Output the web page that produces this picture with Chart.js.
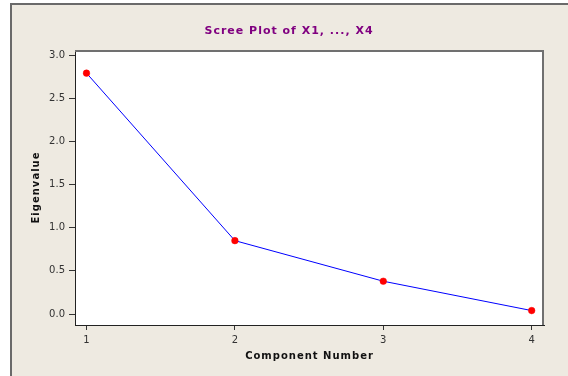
<!DOCTYPE html>
<html lang="en">
<head>
<meta charset="UTF-8">
<title>Scree Plot of X1, ..., X4</title>
<script src="https://cdn.jsdelivr.net/npm/chart.js"></script>
<style>
    html, body { margin: 0; padding: 0; background: #fff; }
    #wrap { width: 568px; height: 376px; }
</style>
</head>
<body>
<div id="wrap"><canvas id="screeChart" width="568" height="376"></canvas></div>
<script>
// values
const components = [1, 2, 3, 4];
const eigenvalues = [2.79, 0.85, 0.38, 0.04];
const xTickValues = [1, 2, 3, 4];
const yTickValues = [0, 0.5, 1.0, 1.5, 2.0, 2.5, 3.0];

const PANEL_BG = '#EEEAE1';

// frame + panel colours (minitab style)
const panelPlugin = {
    id: 'panel',
    beforeDraw(chart) {
        const ctx = chart.ctx;
        const a = chart.chartArea;
        ctx.save();
        ctx.fillStyle = '#fff';
        ctx.fillRect(0, 0, chart.width, chart.height);
        ctx.fillStyle = PANEL_BG;
        ctx.fillRect(10, 3, chart.width, chart.height);
        ctx.strokeStyle = '#6a6a6a';
        ctx.lineWidth = 2;
        ctx.beginPath();
        ctx.moveTo(chart.width + 2, 4);
        ctx.lineTo(11, 4);
        ctx.lineTo(11, chart.height + 2);
        ctx.stroke();
        ctx.fillStyle = '#fff';
        ctx.fillRect(a.left, a.top, a.right - a.left, a.bottom - a.top);
        ctx.restore();

        // spaced lettering for title and axis titles only
        const wrap = (obj, fn, spacing) => {
            if (!obj || obj['_spaced_' + fn]) return;
            const orig = obj[fn];
            obj[fn] = function (...args) {
                const c = this.ctx;
                c.save();
                c.letterSpacing = spacing;
                orig.apply(this, args);
                c.restore();
            };
            obj['_spaced_' + fn] = true;
        };
        wrap(chart.titleBlock, 'draw', '1px');
        wrap(chart.scales.x, 'drawTitle', '1px');
        wrap(chart.scales.y, 'drawTitle', '1px');
    },
    afterDraw(chart) {
        const ctx = chart.ctx;
        const a = chart.chartArea;
        ctx.save();
        ctx.strokeStyle = '#707070';
        ctx.lineWidth = 2;
        ctx.beginPath();
        ctx.moveTo(a.left, a.top + 1);
        ctx.lineTo(a.right - 1, a.top + 1);
        ctx.lineTo(a.right - 1, a.bottom);
        ctx.stroke();
        ctx.restore();
    }
};

Chart.defaults.font.family = "'DejaVu Sans', Verdana, sans-serif";
Chart.defaults.color = '#333';

const ctx = document.getElementById('screeChart').getContext('2d');
new Chart(ctx, {
    type: 'line',
    data: {
        datasets: [{
            data: components.map((c, i) => ({ x: c, y: eigenvalues[i] })),
            borderColor: '#0000FF',
            borderWidth: 1,
            pointBackgroundColor: '#FF0000',
            pointBorderColor: '#FF0000',
            pointRadius: 3.3,
            pointBorderWidth: 0.5,
            tension: 0,
            fill: false
        }]
    },
    options: {
        responsive: false,
        animation: false,
        layout: { padding: { left: 10, right: 0, top: 0, bottom: 0 } },
        plugins: {
            legend: { display: false },
            tooltip: { enabled: false },
            title: {
                display: true,
                text: 'Scree Plot of X1, ..., X4',
                color: '#800080',
                font: { size: 11, weight: 'bold' },
                padding: { top: 25, bottom: 11.8 }
            }
        },
        scales: {
            x: {
                type: 'linear',
                min: 0.9225,
                max: 4.083,
                afterBuildTicks(s) { s.ticks = xTickValues.map(v => ({ value: v })); },
                afterFit(s) { s.height = 51; },
                grid: { display: true, drawOnChartArea: false, drawTicks: true, tickLength: 5, tickColor: '#333' },
                border: { display: true, color: '#222', width: 1 },
                ticks: { font: { size: 10 }, color: '#333', padding: 4, maxRotation: 0 },
                title: {
                    display: true,
                    text: 'Component Number',
                    color: '#111',
                    font: { size: 10, weight: 'bold' },
                    padding: { top: 0, bottom: 14 }
                }
            },
            y: {
                type: 'linear',
                min: -0.127,
                max: 3.058,
                afterBuildTicks(s) { s.ticks = yTickValues.map(v => ({ value: v })); },
                afterFit(s) { s.width = 65; },
                grid: { display: true, drawOnChartArea: false, drawTicks: true, tickLength: 6, tickColor: '#333' },
                border: { display: true, color: '#222', width: 1 },
                ticks: { font: { size: 10 }, color: '#333', padding: 4, callback: v => v.toFixed(1) },
                title: {
                    display: true,
                    text: 'Eigenvalue',
                    color: '#111',
                    font: { size: 10, weight: 'bold' },
                    padding: { top: 20, bottom: 0 }
                }
            },
            y2: {
                position: 'right',
                display: true,
                afterFit(s) { s.width = 24; },
                grid: { display: false, drawTicks: false },
                border: { display: false },
                ticks: { display: false }
            }
        }
    },
    plugins: [panelPlugin]
});
</script>
</body>
</html>
